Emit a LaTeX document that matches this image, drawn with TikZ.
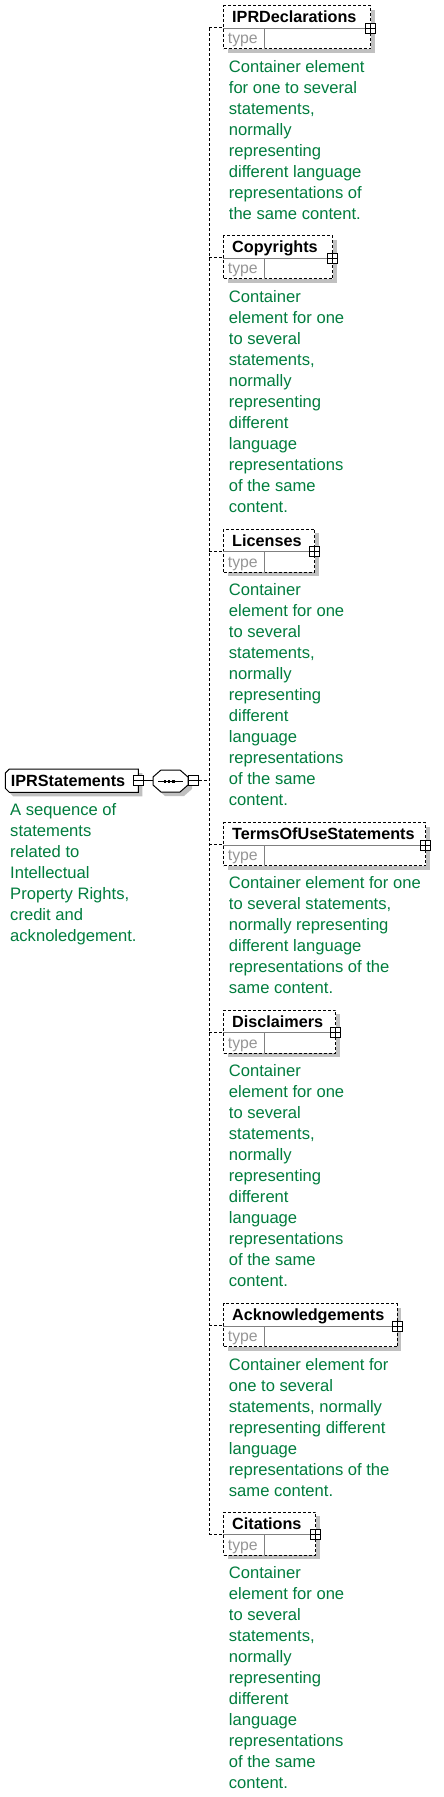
\documentclass[tikz,border=0pt]{standalone}
\usepackage{fontspec}
\setmainfont{Liberation Sans}
\usetikzlibrary{shadows}
\definecolor{descgreen}{RGB}{0,125,62}
\definecolor{shadowgray}{RGB}{192,192,192}
\definecolor{divgray}{RGB}{128,128,128}
\definecolor{typegray}{RGB}{150,150,150}
\newcommand\desclines[1]{\vtop{\baselineskip=21pt\lineskiplimit=-20pt\def\\{\egroup\hbox\bgroup}\hbox\bgroup#1\egroup}}
\tikzset{
  conn/.style={line width=1pt, dash pattern=on 3pt off 2pt},
  solidconn/.style={line width=1pt},
  childbox/.style={draw, line width=1pt, dash pattern=on 3pt off 2pt, fill=white, inner sep=0pt,
    minimum height=43pt, anchor=north west,
    general shadow={fill=shadowgray, shadow xshift=4pt, shadow yshift=-4pt}},
  titletext/.style={inner sep=0pt, anchor=base west, font=\fontsize{16.2}{20}\selectfont\bfseries},
  typetext/.style={inner sep=0pt, anchor=base west, text=typegray, font=\fontsize{15.8}{20}\selectfont},
  desctext/.style={inner sep=0pt, anchor=base west, text=descgreen, font=\fontsize{16.6}{21}\selectfont},
  pmbox/.style={draw, line width=1pt, fill=white, inner sep=0pt, minimum size=10pt},
  divline/.style={draw=divgray, line width=1pt},
}
% #1 name, #2 top, #3 width, #4 title, #5 description
\newcommand\childel[5]{%
  \node[childbox, minimum width=#3pt] (#1) at (223,#2) {};
  \draw[divline] ([yshift=-23pt]#1.north west) -- ([yshift=-23pt]#1.north east);
  \draw[divline] ([xshift=41pt,yshift=-23pt]#1.north west) -- ([xshift=41pt]#1.south west);
  \node[titletext] (#1-title) at ([xshift=9pt,yshift=-17.3pt]#1.north west) {#4};
  \node[typetext] (#1-type) at ([xshift=4.7pt,yshift=-38.6pt]#1.north west) {type};
  \node[pmbox] (#1-plus) at ([xshift=-0.5pt,yshift=-23pt]#1.north east) {};
  \draw[line width=1pt] (#1-plus.west) -- (#1-plus.east) (#1-plus.north) -- (#1-plus.south);
  \node[desctext] (#1-desc) at ([xshift=5.7pt,yshift=-66.8pt]#1.north west) {\desclines{#5}};
  \coordinate (#1-c) at ([yshift=-22.5pt]#1.north west -| spine);
  \draw[conn] (#1-c) -- (#1-c -| #1.west);
}
\begin{document}
\begin{tikzpicture}[x=1pt,y=-1pt]
\useasboundingbox (0,0) rectangle (444,1797);
\fill[white] (0,0) rectangle (444,1797);
\coordinate (spine) at (209,0);

% parent element
\fill[shadowgray] (13.3,773) -- (142.3,773) -- (142.3,796.3) -- (13.3,796.3) -- (9.3,792.3) -- (9.3,777) -- cycle;
\filldraw[fill=white, line width=1pt] (9.3,769) -- (138.3,769) -- (138.3,792.3) -- (9.3,792.3) -- (5.3,788.3) -- (5.3,773) -- cycle;
\node[inner sep=0pt, minimum width=133pt, minimum height=23.3pt, anchor=north west] (IPRStatements) at (5.3,769) {};
\node[titletext] (IPRStatements-title) at (10.7,786) {IPRStatements};
\node[pmbox] (pminus) at (138.7,780.5) {};
\draw[line width=1pt] (pminus.west) -- (pminus.east);
\node[desctext] (IPRStatements-desc) at (10,815) {\desclines{A sequence of\\statements\\related to\\Intellectual\\Property Rights,\\credit and\\acknoledgement.}};

% sequence compositor
\fill[shadowgray] (165,774) -- (184,774) -- (192,781) -- (192,789) -- (184,796) -- (165,796) -- (157,789) -- (157,781) -- cycle;
\filldraw[fill=white, line width=1pt] (161,770) -- (180,770) -- (188,777) -- (188,785) -- (180,792) -- (161,792) -- (153,785) -- (153,777) -- cycle;
\node[inner sep=0pt, minimum width=35pt, minimum height=22pt] (seq) at (170.5,781) {};
\draw[line width=1pt] (158,781) -- (183,781);
\fill (163.7,779.5) rectangle (166.2,782.5);
\fill (167.9,779.5) rectangle (170.4,782.5);
\fill (172.1,779.5) rectangle (174.6,782.5);
\node[pmbox] (seqminus) at (193,780.5) {};
\draw[line width=1pt] (seqminus.west) -- (seqminus.east);

\draw[solidconn] (pminus.east) -- (pminus.east -| seq.west);

% children
\childel{IPRDeclarations}{5.3}{147}{IPRDeclarations}{Container element\\for one to several\\statements,\\normally\\representing\\different language\\representations of\\the same content.}
\childel{Copyrights}{235.3}{109}{Copyrights}{Container\\element for one\\to several\\statements,\\normally\\representing\\different\\language\\representations\\of the same\\content.}
\childel{Licenses}{528.7}{91}{Licenses}{Container\\element for one\\to several\\statements,\\normally\\representing\\different\\language\\representations\\of the same\\content.}
\childel{TermsOfUseStatements}{822}{202}{TermsOfUseStatements}{Container element for one\\to several statements,\\normally representing\\different language\\representations of the\\same content.}
\childel{Disclaimers}{1009.7}{112}{Disclaimers}{Container\\element for one\\to several\\statements,\\normally\\representing\\different\\language\\representations\\of the same\\content.}
\childel{Acknowledgements}{1303.3}{173.7}{Acknowledgements}{Container element for\\one to several\\statements, normally\\representing different\\language\\representations of the\\same content.}
\childel{Citations}{1511.7}{92}{Citations}{Container\\element for one\\to several\\statements,\\normally\\representing\\different\\language\\representations\\of the same\\content.}

% spine
\draw[conn] (IPRDeclarations-c) -- (Citations-c);
\draw[conn] (seqminus.east) -- (seqminus.east -| spine);
\end{tikzpicture}
\end{document}
